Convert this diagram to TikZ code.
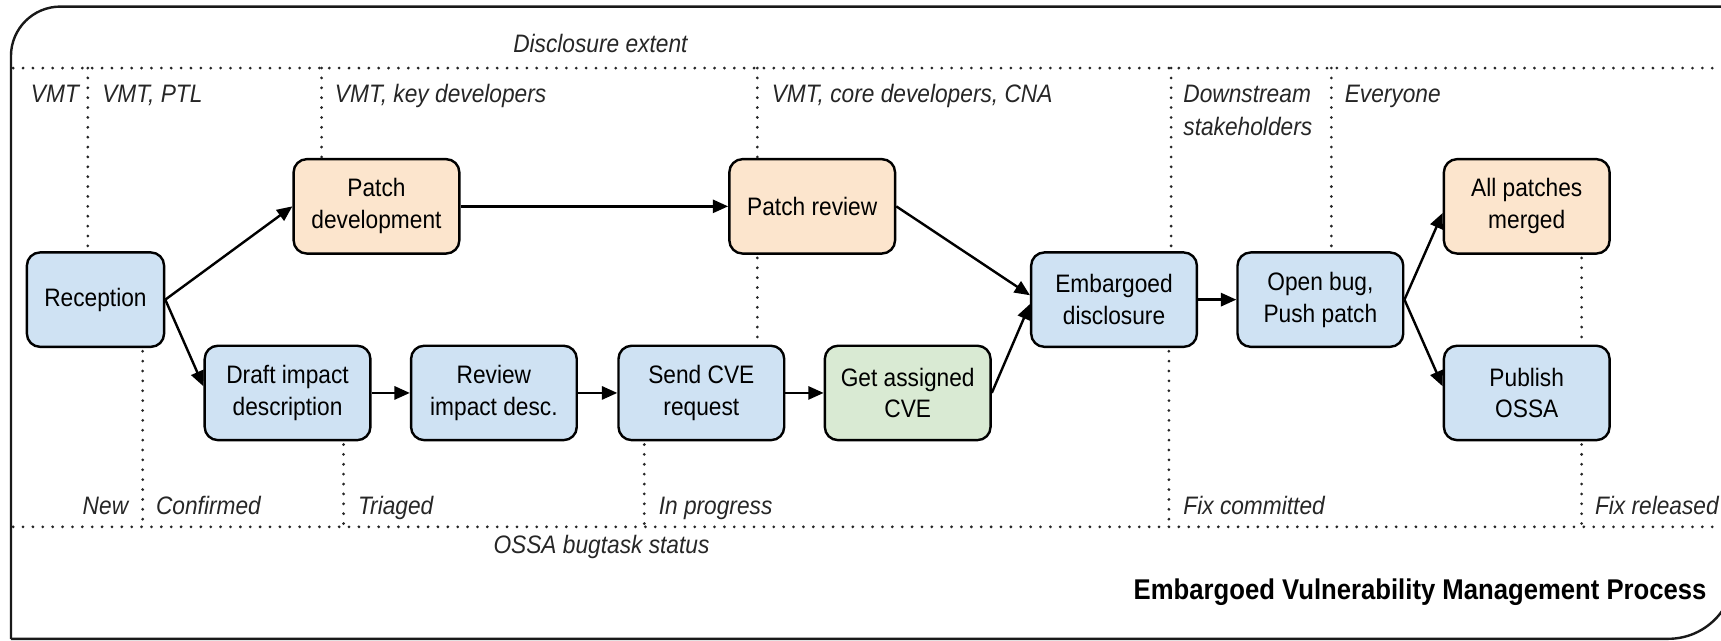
\documentclass[tikz,border=0pt]{standalone}
\usepackage{fontspec}
\setmainfont{Liberation Sans}[FakeStretch=0.9]
\usetikzlibrary{arrows.meta}
\definecolor{bblue}{HTML}{CFE2F3}
\definecolor{borange}{HTML}{FCE5CD}
\definecolor{bgreen}{HTML}{D9EAD3}
\begin{document}
\begin{tikzpicture}[x=1pt,y=-1pt,
  box/.style={draw, line width=2.2pt, rounded corners=12pt, minimum width=151pt,
    minimum height=86pt, align=center, inner sep=0pt, font=\fontsize{23}{29}\selectfont},
  blue/.style={box, fill=bblue},
  orange/.style={box, fill=borange},
  green/.style={box, fill=bgreen},
  arr/.style={line width=2.2pt, -{Triangle[length=14pt,width=12pt]}},
  dots/.style={line width=2.8pt, line cap=round, dash pattern=on 0pt off 9pt, black!85},
  lab/.style={font=\fontsize{23}{29}\selectfont\itshape, text=black!85, inner sep=0pt},
  frame/.style={line width=2.2pt, black!90}]
\useasboundingbox (0,0) rectangle (1568,584);
\clip (0,0) rectangle (1568,584);
% outer frame
\draw[frame, rounded corners=45pt] (10,582) -- (10,6) -- (1600,6);
\draw[frame, rounded corners=60pt] (10,582) -- (1580,582) -- (1580,6);

% boxes
\node[blue, minimum width=125pt] (rec)  at (87,273)   {Reception};
\node[orange] (pdev) at (343,188)  {Patch\\development};
\node[orange] (prev) at (740,188)  {Patch review};
\node[blue]   (draft) at (262,358) {Draft impact\\description};
\node[blue]   (rimp) at (450,358)  {Review\\impact desc.};
\node[blue]   (scve) at (639,358)  {Send CVE\\request};
\node[green]  (gcve) at (827,358)  {Get assigned\\CVE};
\node[blue]   (emb)  at (1015,273) {Embargoed\\disclosure};
\node[blue]   (open) at (1203,273) {Open bug,\\Push patch};
\node[orange] (allp) at (1391,188) {All patches\\merged};
\node[blue]   (pub)  at (1391,358) {Publish\\OSSA};

% dotted guides
\draw[dots] (12,62) -- (1568,62);
\draw[dots] (12,480) -- (1568,480);
\draw[dots] (80,62) -- (80,226);
\draw[dots] (293,62) -- (293,143);
\draw[dots] (690,62) -- (690,143);
\draw[dots] (690,235) -- (690,313);
\draw[dots] (1067,62) -- (1067,228);
\draw[dots] (1065,320) -- (1065,480);
\draw[dots] (1213,62) -- (1213,228);
\draw[dots] (1441,235) -- (1441,313);
\draw[dots] (1441,405) -- (1441,480);
\draw[dots] (130,320) -- (130,480);
\draw[dots] (313,405) -- (313,480);
\draw[dots] (587,405) -- (587,480);

% labels
\node[lab, anchor=base] (dext) at (547,48) {Disclosure extent};
\node[lab, anchor=base] (ossa) at (548,504) {OSSA bugtask status};
\node[lab, anchor=base west] (l1) at (28,93) {VMT};
\node[lab, anchor=base west] (l2) at (93,93) {VMT, PTL};
\node[lab, anchor=base west] (l3) at (305,93) {VMT, key developers};
\node[lab, anchor=base west] (l4) at (703,93) {VMT, core developers, CNA};
\node[lab, anchor=base west] (l5) at (1078,93) {Downstream};
\node[lab, anchor=base west] (l5b) at (1078,123) {stakeholders};
\node[lab, anchor=base west] (l6) at (1225,93) {Everyone};
\node[lab, anchor=base east] (b1) at (117,469) {New};
\node[lab, anchor=base west] (b2) at (142,469) {Confirmed};
\node[lab, anchor=base west] (b3) at (326,469) {Triaged};
\node[lab, anchor=base west] (b4) at (600,469) {In progress};
\node[lab, anchor=base west] (b5) at (1078,469) {Fix committed};
\node[lab, anchor=base west] (b6) at (1453,469) {Fix released};
\node[anchor=base east, inner sep=0pt, font=\fontsize{26}{30}\selectfont\bfseries] (title) at (1555,546) {Embargoed Vulnerability Management Process};

% arrows
\draw[arr] (rec.east) -- (pdev.west);
\draw[arr] (rec.east) -- ([yshift=6pt]draft.west);
\draw[arr] (pdev.east) -- (prev.west);
\draw[arr] (prev.east) -- ([yshift=4pt]emb.west);
\draw[arr] (draft.east) -- (rimp.west);
\draw[arr] (rimp.east) -- (scve.west);
\draw[arr] (scve.east) -- (gcve.west);
\draw[arr] (gcve.east) -- ([yshift=-4pt]emb.west);
\draw[arr] (emb.east) -- (open.west);
\draw[arr] (open.east) -- ([yshift=-6pt]allp.west);
\draw[arr] (open.east) -- ([yshift=6pt]pub.west);
\end{tikzpicture}
\end{document}
